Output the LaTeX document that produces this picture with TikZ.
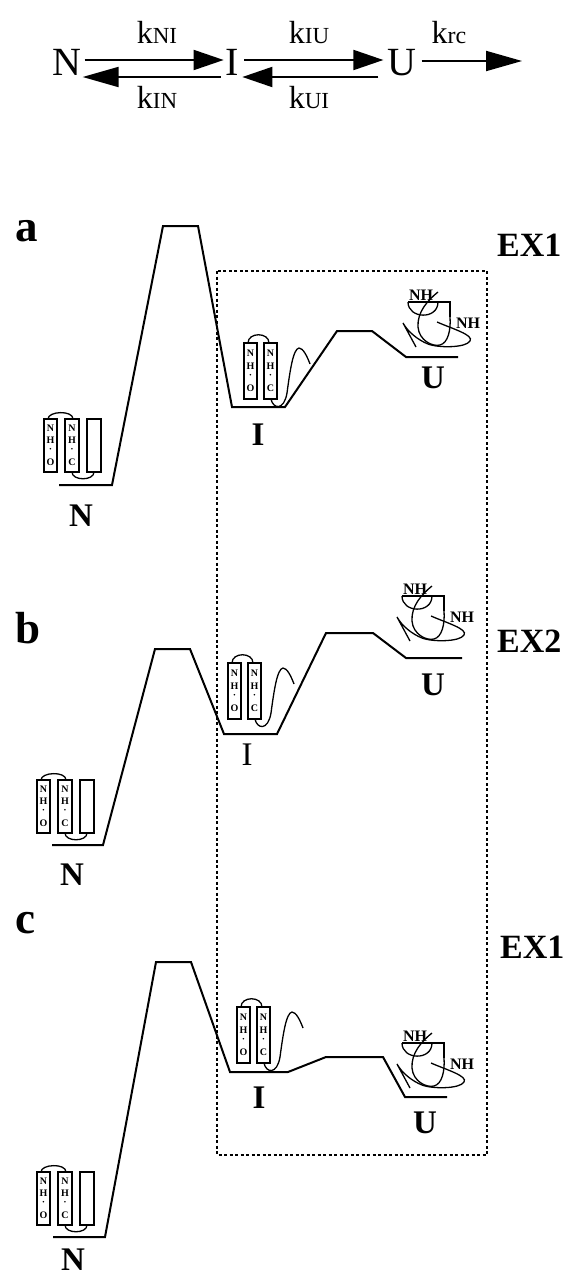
\documentclass[tikz,border=0pt]{standalone}
\usepackage{fontspec}
\setmainfont{Liberation Serif}
\usetikzlibrary{arrows.meta}
\newcommand{\fsz}[1]{\fontsize{#1}{#1}\selectfont}
\begin{document}
\begin{tikzpicture}[x=1pt,y=-1pt,
  prof/.style={line width=2pt, line join=miter},
  cartoon/.style={line width=1.3pt},
  arr/.style={line width=2pt, -{Triangle[length=30pt,width=20pt]}},
  arrl/.style={line width=2pt, -{Triangle[length=36pt,width=20pt]}},
  state/.style={inner sep=0pt, anchor=base, font=\fsz{40}},
  rate/.style={inner sep=0pt, anchor=base},
  lbl/.style={inner sep=0pt, font=\bfseries\fsz{33}},
  lblr/.style={inner sep=0pt, font=\fsz{33}},
  panel/.style={inner sep=0pt, anchor=base west, font=\bfseries\fsz{45}},
  expt/.style={inner sep=0pt, anchor=base west, font=\bfseries\fsz{34}},
  glyph/.style={inner sep=0pt, font=\bfseries\fsz{10}},
  nhlbl/.style={inner sep=0pt, font=\bfseries\fsz{16}},
  box/.style={line width=2pt, dash pattern=on 3pt off 2.5pt},
  % native state: three strands, two of them carrying NH...O labels
  nprot/.pic={
    \draw[cartoon] (0,0) rectangle (13,53) (21,0) rectangle (35,53) (43,0) rectangle (57,53);
    \draw[cartoon] (4,0) .. controls (4,-8) and (29,-9) .. (29,0);
    \draw[cartoon] (28,53) .. controls (28,62) and (50,62) .. (50,53);
    \node[glyph] (-n1) at (6.5,9) {N};
    \node[glyph] (-h1) at (6.5,21) {H};
    \node[glyph] (-d1) at (6.5,31) {·};
    \node[glyph] (-o1) at (6.5,43) {O};
    \node[glyph] (-n2) at (28,9) {N};
    \node[glyph] (-h2) at (28,21) {H};
    \node[glyph] (-d2) at (28,31) {·};
    \node[glyph] (-o2) at (28,43) {C};
  },
  % intermediate: two strands and a loose tail
  iprot/.pic={
    \draw[cartoon] (0,0) rectangle (13,56) (20,0) rectangle (33,56);
    \draw[cartoon] (4,0) .. controls (4,-11) and (25,-11) .. (25,0);
    \draw[cartoon] (27,56) .. controls (29,66) and (40,68) .. (43,50)
      .. controls (46,28) and (49,6) .. (55,5) .. controls (59,5) and (63,13) .. (66,21);
    \node[glyph] (-n1) at (6.5,10) {N};
    \node[glyph] (-h1) at (6.5,23) {H};
    \node[glyph] (-d1) at (6.5,33) {·};
    \node[glyph] (-o1) at (6.5,45) {O};
    \node[glyph] (-n2) at (26.5,10) {N};
    \node[glyph] (-h2) at (26.5,23) {H};
    \node[glyph] (-d2) at (26.5,33) {·};
    \node[glyph] (-o2) at (26.5,45) {C};
  },
  % unfolded chain
  uprot/.pic={
    \node[nhlbl] (-nh1) at (13,-7) {NH};
    \draw[cartoon] (0,0) -- (42,0) -- (42,15);
    \draw[cartoon] (0,0) .. controls (0,17) and (30,18) .. (30,0);
    \draw[cartoon] (30,-10) .. controls (20,-2) and (9,10) .. (10,25)
      .. controls (11,38) and (24,45) .. (32,43) .. controls (40,41) and (43,28) .. (42,15);
    \draw[cartoon] (29,20) .. controls (45,27) and (66,33) .. (62,39)
      .. controls (58,46) and (30,46) .. (20,42) .. controls (10,38) and (0,30) .. (-5,21)
      -- (8,45);
    \node[nhlbl] (-nh2) at (60,21) {NH};
  },
]
\useasboundingbox (0,0) rectangle (567,1277);

% kinetic scheme
\node[state] (N) at (67,75) {N};
\node[state] (I) at (232.5,75) {I};
\node[state] (U) at (402,75) {U};
\coordinate (out) at (522,61);
\draw[arr] ([shift={(3,-15)}]N.base east) -- ([shift={(-2,-15)}]I.base west);
\draw[arrl] ([shift={(-5,2)}]I.base west) -- ([shift={(1,2)}]N.base east);
\draw[arr] ([shift={(5,-15)}]I.base east) -- ([shift={(-4,-15)}]U.base west);
\draw[arr] ([shift={(-9,2)}]U.base west) -- ([shift={(3,2)}]I.base east);
\draw[arrl] ([shift={(5,-14)}]U.base east) -- (out);
\node[rate] (kNI) at (157,43) {\fsz{32}k\fsz{23}NI};
\node[rate] (kIN) at (157,108) {\fsz{32}k\fsz{23}IN};
\node[rate] (kIU) at (309,43) {\fsz{32}k\fsz{23}IU};
\node[rate] (kUI) at (309,108) {\fsz{32}k\fsz{23}UI};
\node[rate] (krc) at (449,43) {\fsz{32}k\fsz{24}rc};

% exchange region
\draw[box] (217,271) rectangle (487,1155);

% panel a
\node[panel] (pa) at (15,241) {a};
\node[expt] (ea) at (497,256) {EX1};
\draw[prof] (59,485) -- (112,485) -- (163,226) -- (198,226) -- (232,407) -- (285,407)
  -- (337,331) -- (372,331) -- (406,357) -- (458,357);
\pic (Pna) at (44,419) {nprot};
\pic (Pia) at (244,343) {iprot};
\pic (Pua) at (408,302) {uprot};
\node[lbl] (Na) at (81,516) {N};
\node[lbl] (Ia) at (258,435) {I};
\node[lbl] (Ua) at (433,378) {U};

% panel b
\node[panel] (pb) at (15,643) {b};
\node[expt] (eb) at (497,652) {EX2};
\draw[prof] (52,845) -- (103,845) -- (155,649) -- (190,649) -- (224,734) -- (277,734)
  -- (326,633) -- (373,633) -- (406,658) -- (462,658);
\pic (Pnb) at (37,780) {nprot};
\pic (Pib) at (228,663) {iprot};
\pic (Pub) at (402,596) {uprot};
\node[lbl] (Nb) at (72,875) {N};
\node[lblr] (Ib) at (247,755) {I};
\node[lbl] (Ub) at (433,685) {U};

% panel c
\node[panel] (pc) at (15,933) {c};
\node[expt] (ec) at (500,958) {EX1};
\draw[prof] (53,1237) -- (105,1237) -- (156,962) -- (191,962) -- (230,1072) -- (288,1072)
  -- (326,1057) -- (383,1057) -- (405,1097) -- (447,1097);
\pic (Pnc) at (37,1172) {nprot};
\pic (Pic) at (237,1007) {iprot};
\pic (Puc) at (402,1043) {uprot};
\node[lbl] (Nc) at (73,1260) {N};
\node[lbl] (Ic) at (259,1098) {I};
\node[lbl] (Uc) at (425,1123) {U};
\end{tikzpicture}
\end{document}
